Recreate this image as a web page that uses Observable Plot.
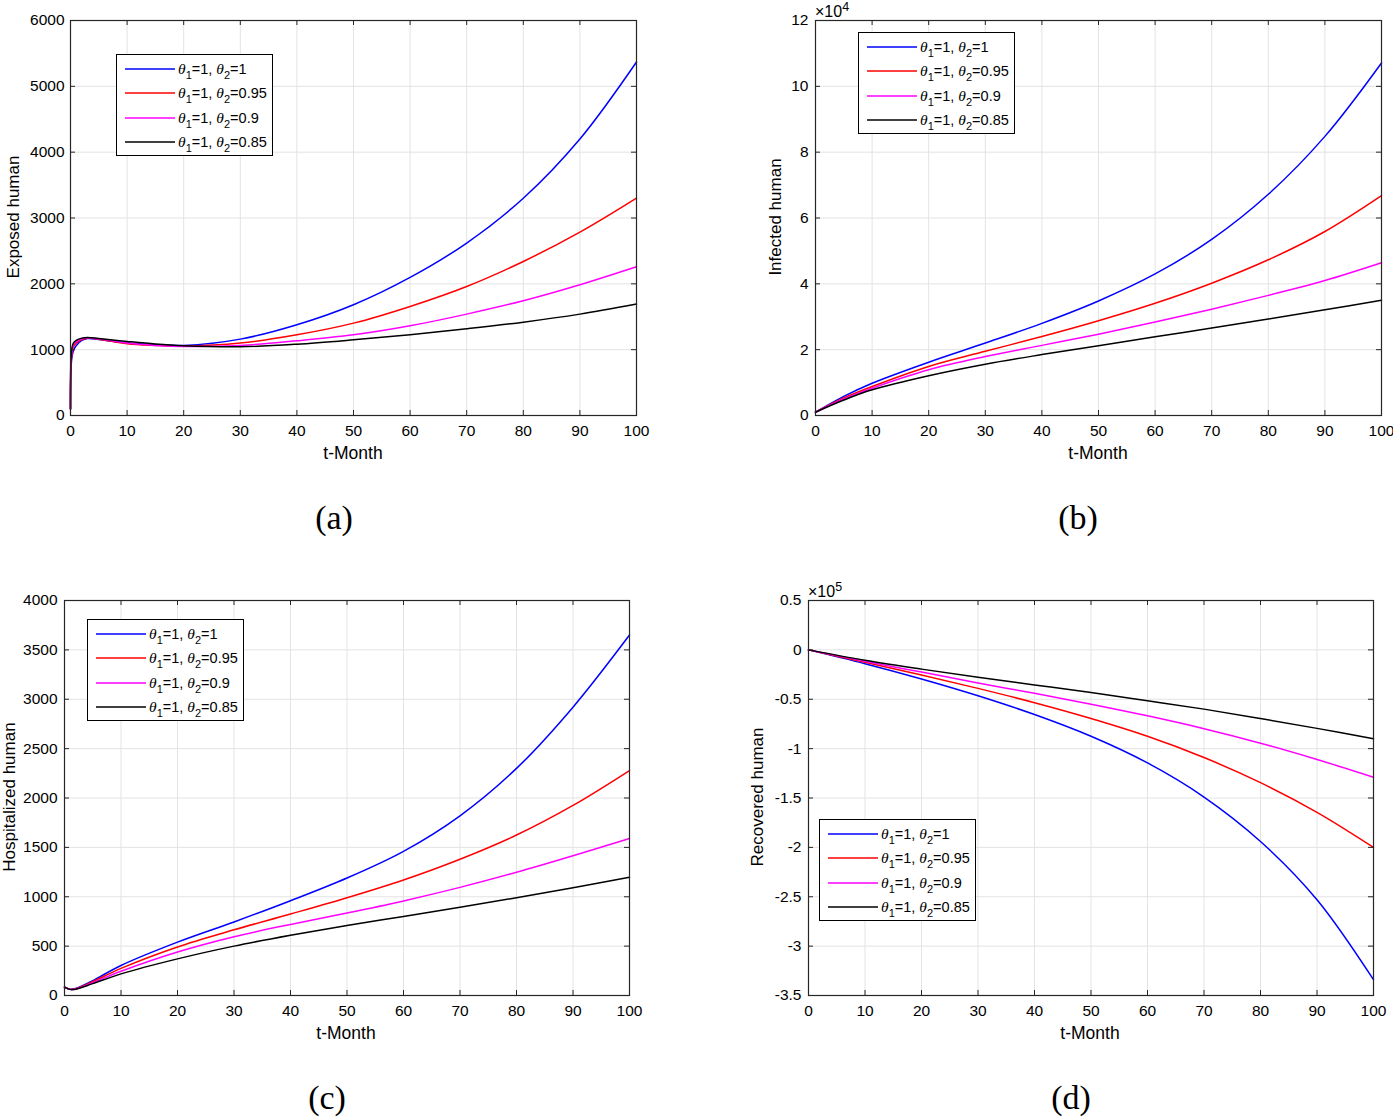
<!DOCTYPE html>
<html><head><meta charset="utf-8">
<script src="https://cdn.jsdelivr.net/npm/d3@7"></script>
<script src="https://cdn.jsdelivr.net/npm/@observablehq/plot@0.6"></script>
<style>
body{margin:0;background:#fff;}
#root{position:relative;width:1393px;height:1117px;overflow:hidden;font-family:"Liberation Sans",Arial,sans-serif;color:#000;background:#fff;}
.panel{position:absolute;}
.ylab{position:absolute;font-size:17px;line-height:18px;white-space:nowrap;transform:translate(-50%,-50%) rotate(-90deg);}
.xlab{position:absolute;font-size:17.5px;white-space:nowrap;transform:translate(-50%,-50%);}
.cap{position:absolute;font-family:"Liberation Serif",serif;font-size:34px;white-space:nowrap;transform:translate(-50%,-50%);}
.legend{position:absolute;width:155px;height:100px;border:1px solid #000;background:#fff;}
.row{position:absolute;left:0;height:20px;display:flex;align-items:center;font-size:14.5px;white-space:nowrap;}
.row svg{margin-left:8px;margin-right:3px;display:block;}
.th{font-family:"Liberation Serif",serif;font-style:italic;font-size:15.5px;}
.row sub{font-size:11px;vertical-align:-5px;line-height:0;}
.exp{position:absolute;font-size:16px;line-height:18px;white-space:nowrap;}
.exp sup{font-size:12.5px;vertical-align:6px;line-height:0;}
</style>
</head><body><div id="root"></div>
<script>
// ---- shared ----
const xTicks = [0,10,20,30,40,50,60,70,80,90,100];
const seriesColors = ["#0000ff","#ff0000","#ff00ff","#000000"];
const theta1Values = ["1","1","1","1"];
const theta2Values = ["1","0.95","0.9","0.85"];

// ---- (a) Exposed human ----
const tA = [0,0.2,0.5,1,2,3,5,10,15,20,30,40,50,60,70,80,90,100];
const exposedT1 = [100,850,980,1060,1140,1170,1155,1100,1075,1064,1160,1378,1682,2097,2620,3300,4200,5370];
const exposedT095 = [100,900,1040,1100,1155,1175,1160,1090,1065,1054,1100,1226,1403,1657,1960,2340,2786,3303];
const exposedT09 = [100,950,1070,1120,1165,1178,1165,1100,1065,1049,1064,1135,1226,1363,1540,1743,1986,2259];
const exposedT085 = [100,1000,1100,1140,1175,1185,1170,1125,1085,1059,1044,1084,1150,1226,1317,1418,1540,1692];
const yTicksA = [0,1000,2000,3000,4000,5000,6000];

// ---- (b) Infected human (x 10^4) ----
const tB = [0,5,10,20,30,40,50,60,70,80,90,100];
const infectedT1 = [0.1,0.58,0.98,1.62,2.2,2.8,3.48,4.3,5.35,6.72,8.48,10.71];
const infectedT095 = [0.1,0.53,0.88,1.49,1.95,2.40,2.88,3.41,4.02,4.73,5.59,6.68];
const infectedT09 = [0.1,0.5,0.83,1.39,1.79,2.13,2.47,2.84,3.23,3.65,4.10,4.64];
const infectedT085 = [0.1,0.47,0.78,1.21,1.56,1.85,2.12,2.39,2.66,2.93,3.21,3.50];
const yTicksB = [0,2,4,6,8,10,12];

// ---- (c) Hospitalized human ----
const tC = [0,1,2,5,10,20,30,40,50,60,70,80,90,100];
const hospT1 = [85,62,70,150,304,540,745,960,1190,1460,1820,2300,2920,3650];
const hospT095 = [85,62,68,140,275,492,665,825,990,1170,1380,1625,1925,2278];
const hospT09 = [85,62,66,130,245,440,595,720,835,958,1095,1248,1415,1590];
const hospT085 = [85,62,64,120,219,371,500,610,710,800,893,990,1092,1198];
const yTicksC = [0,500,1000,1500,2000,2500,3000,3500,4000];

// ---- (d) Recovered human (x 10^5) ----
const tD = [0,10,20,30,40,50,60,70,80,90,100];
const recT1 = [0,-0.14,-0.295,-0.465,-0.655,-0.875,-1.145,-1.49,-1.94,-2.53,-3.34];
const recT095 = [0,-0.125,-0.255,-0.39,-0.535,-0.695,-0.875,-1.09,-1.345,-1.645,-2.0];
const recT09 = [0,-0.115,-0.225,-0.335,-0.44,-0.55,-0.668,-0.798,-0.945,-1.11,-1.29];
const recT085 = [0,-0.105,-0.195,-0.278,-0.355,-0.432,-0.515,-0.6,-0.695,-0.795,-0.90];
const yTicksD = [-3.5,-3,-2.5,-2,-1.5,-1,-0.5,0,0.5];

const root = document.getElementById("root");

function makePanel(cfg){
  const pw = cfg.width - cfg.ml - cfg.mr, ph = cfg.height - cfg.mt - cfg.mb;
  const fmt = d => String(d);
  const axisColor = "#262626";
  const svg = Plot.plot({
    width: cfg.width, height: cfg.height,
    marginLeft: cfg.ml, marginRight: cfg.mr, marginTop: cfg.mt, marginBottom: cfg.mb,
    style: {fontFamily: "Liberation Sans, Arial, sans-serif", fontSize: "15.5px", color: "#000", background: "transparent", overflow: "visible"},
    x: {domain: [0,100]},
    y: {domain: cfg.yDomain},
    marks: [
      Plot.gridX(xTicks, {stroke: "#e3e3e3", strokeOpacity: 1}),
      Plot.gridY(cfg.yTicks, {stroke: "#e3e3e3", strokeOpacity: 1}),
      ...cfg.series.map((arr,k) => Plot.line(cfg.t.map((t,i) => ({t, v: arr[i]})), {x: "t", y: "v", stroke: seriesColors[k], strokeWidth: 1.5, curve: "catmull-rom"})),
      Plot.frame({stroke: axisColor, strokeWidth: 1.2}),
      Plot.tickX(xTicks, {x: d => d, stroke: axisColor, insetTop: ph - 5}),
      Plot.tickX(xTicks, {x: d => d, stroke: axisColor, insetBottom: ph - 5}),
      Plot.tickY(cfg.yTicks, {y: d => d, stroke: axisColor, insetRight: pw - 5}),
      Plot.tickY(cfg.yTicks, {y: d => d, stroke: axisColor, insetLeft: pw - 5}),
      Plot.axisX(xTicks, {tickSize: 0, tickPadding: 9, label: null, tickFormat: fmt, fill: "#000"}),
      Plot.axisY(cfg.yTicks, {tickSize: 0, tickPadding: cfg.ypad, label: null, tickFormat: fmt, fill: "#000"})
    ]
  });
  const div = document.createElement("div");
  div.className = "panel";
  div.style.left = cfg.left + "px";
  div.style.top = cfg.top + "px";
  div.appendChild(svg);
  root.appendChild(div);

  const addText = (cls, html, x, y) => {
    const d = document.createElement("div");
    d.className = cls; d.innerHTML = html;
    d.style.left = x + "px"; d.style.top = y + "px";
    root.appendChild(d);
  };
  addText("ylab", cfg.ylabel, cfg.ylabPos[0], cfg.ylabPos[1]);
  addText("xlab", "t-Month", cfg.xlabPos[0], cfg.xlabPos[1]);
  addText("cap", cfg.caption, cfg.capPos[0], cfg.capPos[1]);
  if (cfg.exp) {
    addText("exp", "&times;10<sup>" + cfg.exp + "</sup>", cfg.expPos[0], cfg.expPos[1]);
  }
  // legend
  const lg = document.createElement("div");
  lg.className = "legend";
  lg.style.left = cfg.legPos[0] + "px"; lg.style.top = cfg.legPos[1] + "px";
  seriesColors.forEach((c,k) => {
    const r = document.createElement("div");
    r.className = "row";
    r.style.top = (4 + k*24.4) + "px";
    r.innerHTML = `<svg width="50" height="4"><line x1="0" x2="50" y1="2" y2="2" stroke="${c}" stroke-width="1.5"/></svg><span><span class="th">&theta;</span><sub>1</sub>=${theta1Values[k]}, <span class="th">&theta;</span><sub>2</sub>=${theta2Values[k]}</span>`;
    lg.appendChild(r);
  });
  root.appendChild(lg);
}

makePanel({left: 0, top: 0, width: 660, height: 470, ml: 70, mr: 24, mt: 20, mb: 55, ypad: 6,
  t: tA, series: [exposedT1, exposedT095, exposedT09, exposedT085], yDomain: [0,6000], yTicks: yTicksA,
  ylabel: "Exposed human", ylabPos: [14,217], xlabPos: [353,453], caption: "(a)", capPos: [334,518], legPos: [116,54]});

makePanel({left: 745, top: 0, width: 648, height: 470, ml: 70, mr: 12, mt: 20, mb: 55, ypad: 7,
  t: tB, series: [infectedT1, infectedT095, infectedT09, infectedT085], yDomain: [0,12], yTicks: yTicksB,
  ylabel: "Infected human", ylabPos: [776,217], xlabPos: [1098,453], caption: "(b)", capPos: [1078,518], legPos: [858,32],
  exp: "4", expPos: [815,3]});

makePanel({left: 0, top: 580, width: 660, height: 470, ml: 64, mr: 31, mt: 20, mb: 55, ypad: 7,
  t: tC, series: [hospT1, hospT095, hospT09, hospT085], yDomain: [0,4000], yTicks: yTicksC,
  ylabel: "Hospitalized human", ylabPos: [10,797], xlabPos: [346,1033], caption: "(c)", capPos: [327,1098], legPos: [87,619]});

makePanel({left: 740, top: 580, width: 653, height: 470, ml: 68, mr: 20, mt: 20, mb: 55, ypad: 7,
  t: tD, series: [recT1, recT095, recT09, recT085], yDomain: [-3.5,0.5], yTicks: yTicksD,
  ylabel: "Recovered human", ylabPos: [758,797], xlabPos: [1090,1033], caption: "(d)", capPos: [1071,1098], legPos: [819,819],
  exp: "5", expPos: [808,583]});
</script>
</body></html>
